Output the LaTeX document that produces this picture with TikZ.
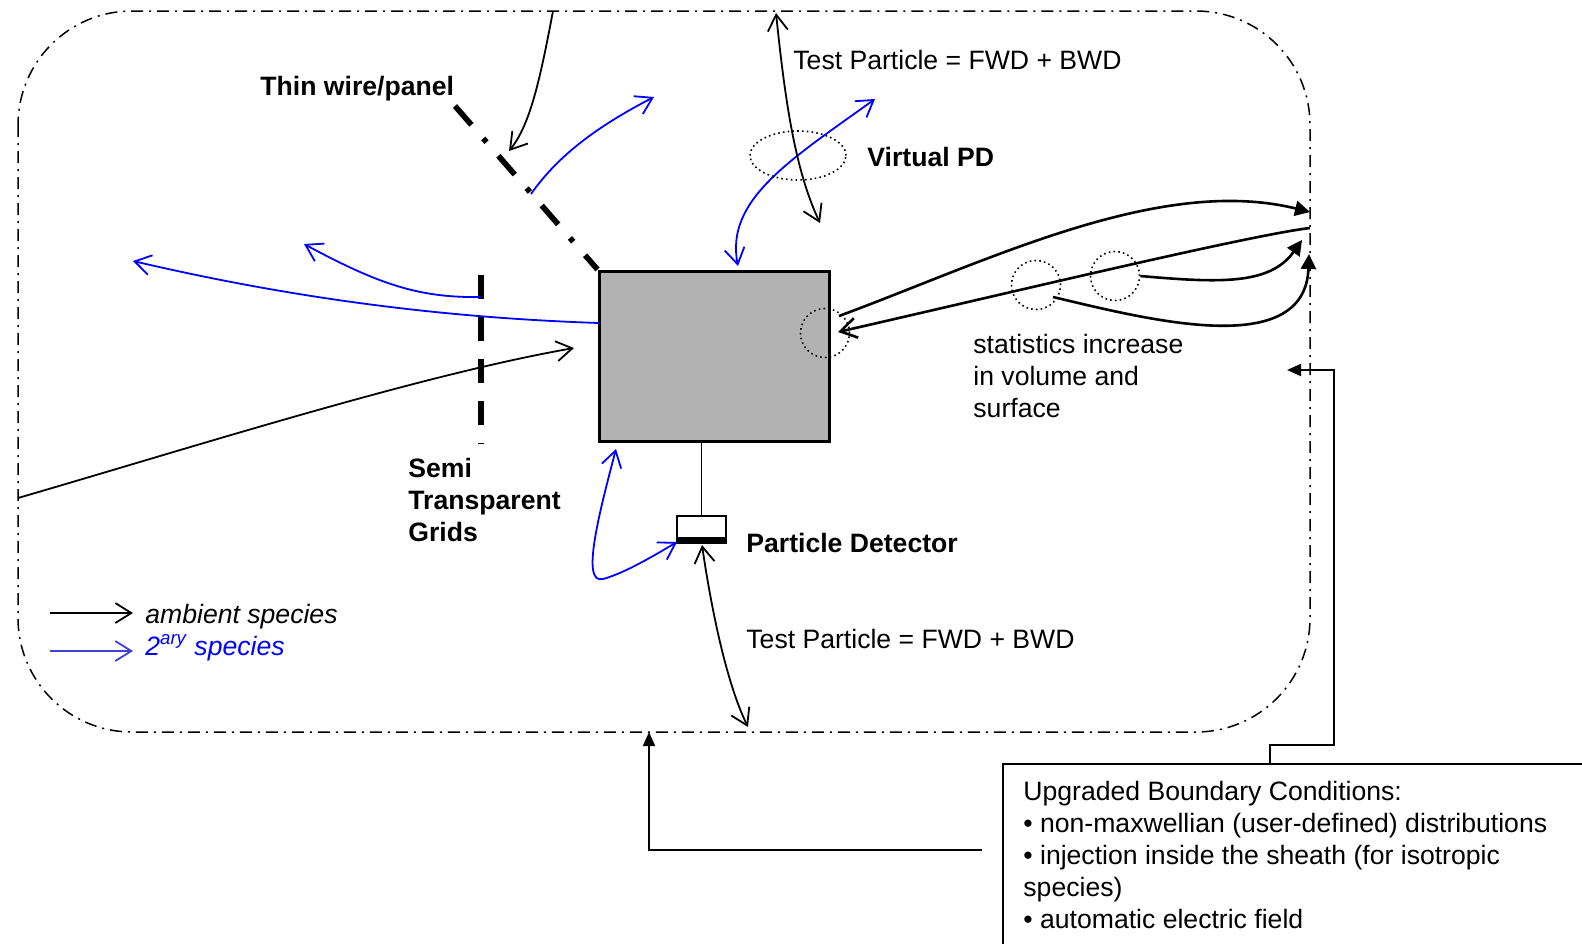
\documentclass[tikz,border=0pt]{standalone}
\usepackage{fontspec}
\setmainfont{Liberation Sans}
\usetikzlibrary{arrows.meta,shapes.geometric}
\definecolor{boxgray}{RGB}{178,178,178}
\definecolor{legblue}{RGB}{64,64,220}
\begin{document}
\begin{tikzpicture}[x=0.5pt,y=-0.5pt,
  txt/.style={anchor=base west, inner sep=0pt, align=left, font=\fontsize{13.3}{16}\selectfont},
  btxt/.style={txt, font=\fontsize{13.3}{16}\selectfont\bfseries},
  itxt/.style={txt, font=\fontsize{13.3}{16}\selectfont\itshape},
  bound/.style={line width=0.75pt, dash pattern=on 6pt off 3pt on 1pt off 3pt, rounded corners=57pt},
  barb/.tip={Straight Barb[length=8pt,width=10pt]},
  tri/.tip={Triangle[length=7.5pt,width=7.5pt]},
  ctri/.tip={Triangle[length=7pt,width=6pt]},
  amb/.style={line width=0.9pt, -barb},
  ambboth/.style={line width=0.9pt, barb-barb},
  sec/.style={blue, line width=0.9pt, -barb},
  secboth/.style={blue, line width=0.9pt, barb-barb},
  stat/.style={line width=1.3pt, -tri},
  statback/.style={line width=1.3pt, -barb},
  conn/.style={line width=1pt, -ctri},
  dotline/.style={line width=0.8pt, dash pattern=on 0.8pt off 1.6pt},
]
\useasboundingbox (0,0) rectangle (1582,943);
\clip (0,0) rectangle (1582,943);

% simulation boundary
\draw[bound] (18,11) rectangle (1310,732);

% spacecraft body
\node[draw, line width=1.5pt, fill=boxgray, minimum width=115pt, minimum height=85pt, inner sep=0pt] (body) at (714,356) {};

% particle detector
\node[draw, line width=0.8pt, fill=white, minimum width=24.5pt, minimum height=11pt, inner sep=0pt] (det) at (701.5,527) {};
\fill (det.south west) rectangle ([yshift=-2.5pt]det.south east);
\draw[line width=0.8pt] (det.north |- body.south) -- (det.north);

% thin wire / panel
\coordinate (wire0) at (455,106);
\draw[line width=2.8pt, dash pattern=on 12.5pt off 9pt on 2.5pt off 9pt] (wire0) -- (body.north west);

% semi transparent grid
\coordinate (grid0) at (481,275);
\coordinate (grid1) at (481,444);
\draw[line width=3pt, dash pattern=on 12pt off 9pt] (grid0) -- (grid1);

% ambient species arrows
\coordinate (ambin) at (18,498);
\coordinate (ambtip) at (574,348);
\draw[amb] (ambin) .. controls (200,445) and (420,375) .. (ambtip);

\coordinate (topin) at (553,11);
\coordinate (toptip) at (509,151);
\draw[amb] (topin) .. controls (540,80) and (530,125) .. (toptip);

% secondary species
\coordinate (b1s) at (599,323);
\coordinate (b1e) at (133,261);
\draw[sec] (b1s) .. controls (450,318) and (300,300) .. (b1e);

\coordinate (b2s) at (481,297);
\coordinate (b2e) at (304,244);
\draw[sec] (b2s) .. controls (420,298) and (380,285) .. (b2e);

\coordinate (b3s) at (531,194);
\coordinate (b3e) at (654,97);
\draw[sec] (b3s) .. controls (555,160) and (590,130) .. (b3e);

\coordinate (b4s) at (738,266);
\coordinate (b4e) at (875,99);
\draw[secboth] (b4s) .. controls (725,200) and (790,160) .. (b4e);

\coordinate (b5s) at (616,449);
\coordinate (b5e) at (677,542);
\draw[secboth] (b5s) .. controls (600,510) and (580,585) .. (603,579) .. controls (625,573) and (655,555) .. (b5e);

% test particle arrows
\coordinate (tp1a) at (776,13);
\coordinate (tp1b) at (820,223);
\draw[ambboth] (tp1a) .. controls (785,100) and (795,170) .. (tp1b);

\coordinate (tp2a) at (702,545);
\coordinate (tp2b) at (748,727);
\draw[ambboth] (tp2a) .. controls (710,600) and (725,680) .. (tp2b);

% virtual PD and statistics circles
\node[draw, dotline, ellipse, minimum width=48pt, minimum height=24.5pt, inner sep=0pt] (vpd) at (798,155.5) {};
\node[draw, dotline, circle, minimum size=24.5pt, inner sep=0pt] (c0) at (825,333) {};
\node[draw, dotline, circle, minimum size=24.5pt, inner sep=0pt] (c1) at (1036,285) {};
\node[draw, dotline, circle, minimum size=24.5pt, inner sep=0pt] (c2) at (1115,276) {};

% statistics arrows
\coordinate (s1s) at (839,316);
\coordinate (s1e) at (1310,212);
\draw[stat] (s1s) .. controls (990,260) and (1160,175) .. (s1e);
\coordinate (s2s) at (1310,228);
\coordinate (s2e) at (838,332);
\draw[statback] (s2s) .. controls (1250,235) and (1000,295) .. (s2e);
\coordinate (s3e) at (1302,240);
\draw[stat] (c2.east) .. controls (1220,283) and (1270,285) .. (s3e);
\coordinate (s4s) at (1053,297);
\coordinate (s4e) at (1309,254);
\draw[stat] (s4s) .. controls (1150,320) and (1305,360) .. (s4e);

% labels (multi-line nodes: base = last line)
\node[btxt] (lthin) at (260,95) {Thin wire/panel};
\node[txt] (ltp1) at (793,69) {Test Particle = FWD + BWD};
\node[btxt] (lvpd) at (867,166) {Virtual PD};
\node[txt] (lstat) at (973,417) {statistics increase\\in volume and\\surface};
\node[btxt] (lgrid) at (408,541) {Semi\\Transparent\\Grids};
\node[btxt] (ldet) at (746,552) {Particle Detector};
\node[txt] (ltp2) at (746,648) {Test Particle = FWD + BWD};

% legend
\coordinate (lg1a) at (50,613);
\coordinate (lg1b) at (133,613);
\draw[amb] (lg1a) -- (lg1b);
\coordinate (lg2a) at (50,651);
\coordinate (lg2b) at (133,651);
\draw[legblue, line width=0.9pt, -barb] (lg2a) -- (lg2b);
\node[itxt] (lamb) at (145,623) {ambient species};
\node[itxt, text=blue] (lsec) at (145,655) {2\textsuperscript{ary} species};

% boundary conditions box
\node[draw, line width=1pt, minimum width=320pt, minimum height=110pt, inner sep=0pt, anchor=north west] (bc) at (1002,763) {};
\node[txt] (bctext) at (1023,928) {Upgraded Boundary Conditions:\\\textbullet{} non-maxwellian (user-defined) distributions\\\textbullet{} injection inside the sheath (for isotropic\\species)\\\textbullet{} automatic electric field};

\coordinate (bcup) at (1270,763);
\coordinate (bndr) at (1287,370);
\draw[conn] (bcup) -- (1270,745) -- (1334,745) -- (1334,370) -- (bndr);
\coordinate (bcleft) at (982,850);
\coordinate (bndb) at (649,732);
\draw[conn] (bcleft) -| (bndb);
\end{tikzpicture}
\end{document}
